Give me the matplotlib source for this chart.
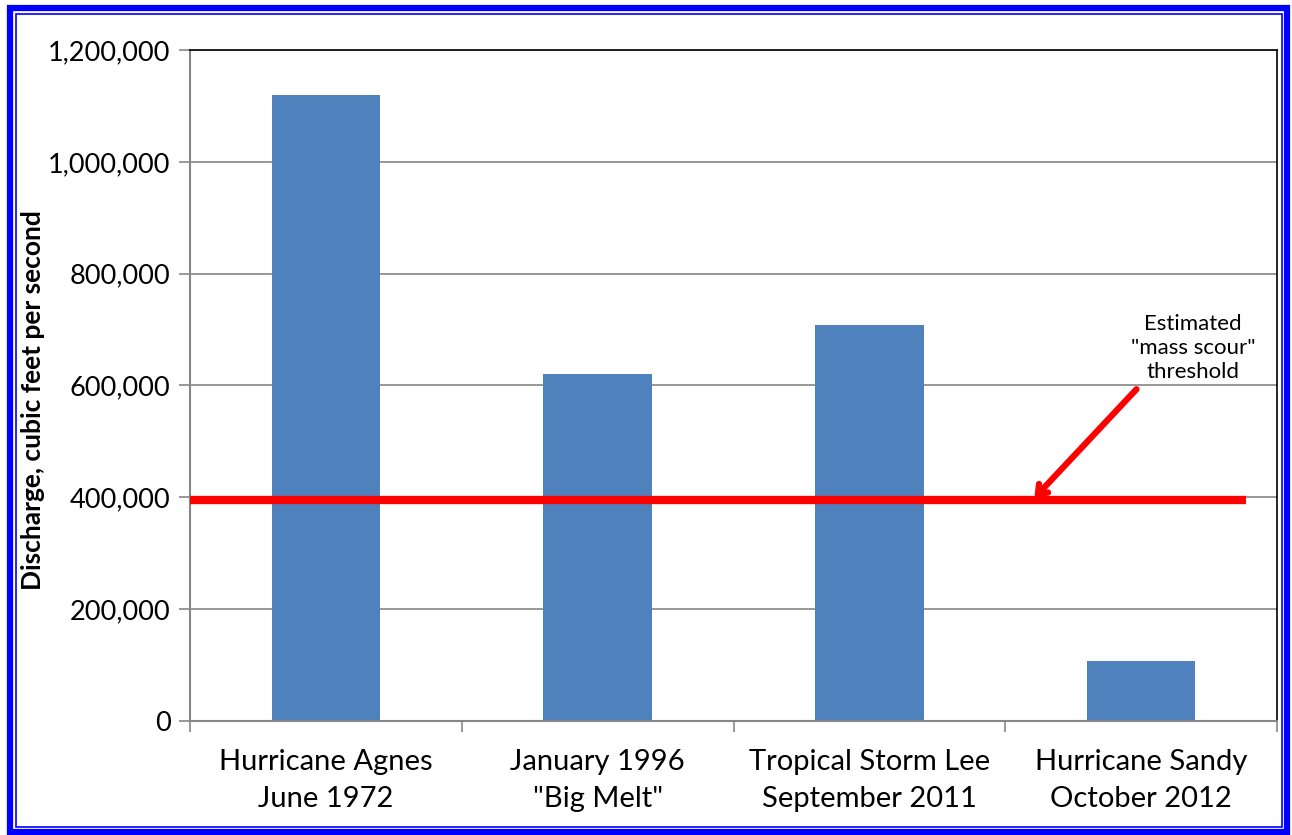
import matplotlib.pyplot as plt
import numpy as np
from matplotlib.patches import Rectangle
from matplotlib.ticker import FuncFormatter, MultipleLocator

plt.rcParams["font.family"] = ["Lato", "DejaVu Sans"]

events = [
    "Hurricane Agnes\nJune 1972",
    "January 1996\n\"Big Melt\"",
    "Tropical Storm Lee\nSeptember 2011",
    "Hurricane Sandy\nOctober 2012",
]
discharge = [1120000, 620000, 708000, 108000]
threshold = 395000
threshold_label = "Estimated\n\"mass scour\"\nthreshold"

W, H = 1292, 835
fig = plt.figure(figsize=(W / 100, H / 100), dpi=100)
ax = fig.add_axes([190 / W, 1 - 721 / H, (1277 - 190) / W, (721 - 50) / H])

x = np.arange(len(events))
ax.bar(x, discharge, width=0.4, color="#4f81bd", zorder=2)
ax.set_xlim(-0.5, len(events) - 0.5)
ax.set_ylim(0, 1200000)

ax.yaxis.set_major_locator(MultipleLocator(200000))
ax.yaxis.set_major_formatter(FuncFormatter(lambda v, _: f"{v:,.0f}"))
ax.grid(axis="y", color="#868686", linewidth=1.2, zorder=0)
ax.set_xticks(np.arange(len(events) + 1) - 0.5, minor=False)
ax.set_xticklabels([])
ax.set_xticks(x, minor=True)
ax.set_xticklabels(events, minor=True, fontsize=21, linespacing=1.52)
ax.tick_params(axis="x", which="minor", length=0, pad=20)
ax.tick_params(axis="x", which="major", length=8, color="#868686", width=1.2)
ax.tick_params(axis="y", length=8, color="#868686", width=1.2, labelsize=19.5, pad=6)

for side in ("left", "bottom"):
    ax.spines[side].set_color("#868686")
    ax.spines[side].set_linewidth(1.5)
for side in ("top", "right"):
    ax.spines[side].set_color("black")
    ax.spines[side].set_linewidth(1.2)

ax.set_ylabel("Discharge, cubic feet per second", fontsize=19, fontweight="bold")
ax.yaxis.set_label_coords(-0.1334, 0.478)

# threshold line and its callout
ax.plot([-0.5, 3.386], [threshold, threshold], color="#ff0000", linewidth=6, solid_capstyle="butt", zorder=3)
ax.annotate(
    "",
    xy=(2.6, threshold), xytext=(2.99, 597000),
    arrowprops=dict(arrowstyle="->,head_length=0.6,head_width=0.45", color="#ff0000", lw=4.5),
    zorder=4,
)
ax.text(3.19, 667000, threshold_label, ha="center", va="center", fontsize=16, linespacing=1.25)

# double blue frame around the figure
fig.patches.append(Rectangle((10 / W, 1 - 832 / H), 1277 / W, 824 / H, transform=fig.transFigure,
                             fill=False, edgecolor="#0000ff", linewidth=4.5))
fig.patches.append(Rectangle((16 / W, 1 - 827 / H), 1266 / W, 813 / H, transform=fig.transFigure,
                             fill=False, edgecolor="#0000ff", linewidth=1.2))

fig.savefig("out.png", dpi=100)
